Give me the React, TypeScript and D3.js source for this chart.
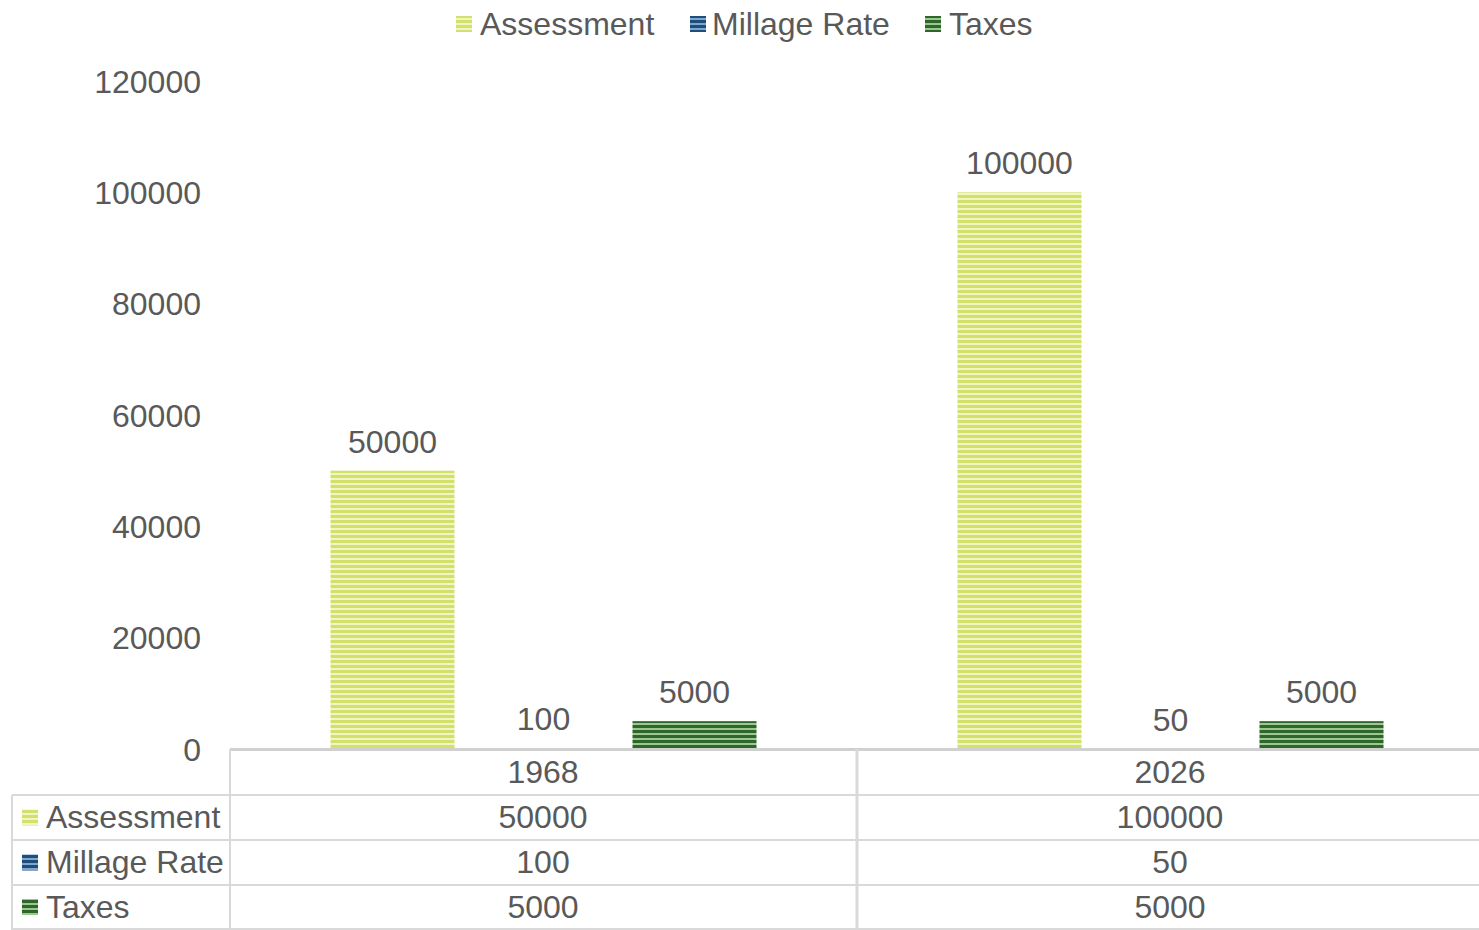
import React from 'react';
import { scaleBand, scaleLinear } from 'd3';

const years = ['1968', '2026'];
const seriesNames = ['Assessment', 'Millage Rate', 'Taxes'];
const assessment = [50000, 100000];
const millage = [100, 50];
const taxes = [5000, 5000];
const yTicks = [0, 20000, 40000, 60000, 80000, 100000, 120000];

const values = [assessment, millage, taxes];

const W = 1479;
const H = 930;
const FONT = 'Liberation Sans, Arial, sans-serif';
const FS = 32;
const TEXT = '#595959';
const GRID = '#d9d9d9';

// base colour + stripe colour for each series
const fills = [
  { id: 'pA', base: '#d3e16b', stripe: '#eff5c4' },
  { id: 'pM', base: '#1f4e79', stripe: '#7ea6d0' },
  { id: 'pT', base: '#2f662b', stripe: '#9cc78f' },
];

const App = () => {
  const plotLeft = 230;
  const y = scaleLinear().domain([0, 120000]).range([749, 81]);
  const x0 = scaleBand().domain(years).range([plotLeft, 1484]);
  const x1 = scaleBand()
    .domain(seriesNames)
    .range([0, x0.bandwidth()])
    .paddingInner(0.1788)
    .paddingOuter(0.6655);

  const rowTops = [749, 795, 840, 885, 929];

  return (
    <svg
      width={W}
      height={H}
      style={{ position: 'absolute', left: 0, top: 0, display: 'block', background: '#fff' }}
      fontFamily={FONT}
    >
      <defs>
        {fills.map((f) => (
          <pattern key={f.id} id={f.id} width={6} height={5} patternUnits="userSpaceOnUse">
            <rect width={6} height={5} fill={f.base} />
            <rect y={3} width={6} height={2} fill={f.stripe} />
          </pattern>
        ))}
      </defs>

      {/* legend */}
      {[
        { x: 456, tx: 480 },
        { x: 690, tx: 712 },
        { x: 925, tx: 949 },
      ].map((p, i) => (
        <g key={seriesNames[i]}>
          <rect x={p.x} y={16} width={16} height={16} fill={`url(#${fills[i].id})`} />
          <text x={p.tx} y={35} fontSize={FS} fill={TEXT}>
            {seriesNames[i]}
          </text>
        </g>
      ))}

      {/* y axis labels */}
      {yTicks.map((t) => (
        <text key={t} x={201} y={y(t)} dy="0.36em" textAnchor="end" fontSize={FS} fill={TEXT}>
          {t}
        </text>
      ))}

      {/* bars */}
      {years.map((yr, j) => (
        <g key={yr} transform={`translate(${x0(yr)},0)`}>
          {seriesNames.map((s, i) => {
            const v = values[i][j];
            const bx = x1(s) as number;
            const top = y(v);
            return (
              <g key={s}>
                <rect
                  x={bx}
                  y={top}
                  width={x1.bandwidth()}
                  height={y(0) - top}
                  fill={`url(#${fills[i].id})`}
                />
                <text
                  x={bx + x1.bandwidth() / 2}
                  y={top - 18}
                  textAnchor="middle"
                  fontSize={FS}
                  fill={TEXT}
                >
                  {v}
                </text>
              </g>
            );
          })}
        </g>
      ))}

      {/* data table */}
      <line x1={plotLeft} x2={W} y1={749.5} y2={749.5} stroke="#d0d0d0" strokeWidth={3} />
      {rowTops.slice(1).map((ry) => (
        <line key={ry} x1={12} x2={W} y1={ry} y2={ry} stroke={GRID} strokeWidth={2} />
      ))}
      <line x1={12} x2={12} y1={795} y2={930} stroke={GRID} strokeWidth={2} />
      <line x1={plotLeft} x2={plotLeft} y1={749} y2={930} stroke={GRID} strokeWidth={2} />
      <line x1={857} x2={857} y1={749} y2={930} stroke={GRID} strokeWidth={3} />

      {years.map((yr) => (
        <text
          key={yr}
          x={(x0(yr) as number) + 313}
          y={(rowTops[0] + rowTops[1]) / 2}
          dy="0.34em"
          textAnchor="middle"
          fontSize={FS}
          fill={TEXT}
        >
          {yr}
        </text>
      ))}
      {seriesNames.map((s, i) => {
        const cy = (rowTops[i + 1] + rowTops[i + 2]) / 2;
        return (
          <g key={s}>
            <rect x={22} y={cy - 8} width={16} height={16} fill={`url(#${fills[i].id})`} />
            <text x={46} y={cy} dy="0.34em" fontSize={FS} fill={TEXT}>
              {s}
            </text>
            {years.map((yr, j) => (
              <text
                key={yr}
                x={(x0(yr) as number) + 313}
                y={cy}
                dy="0.34em"
                textAnchor="middle"
                fontSize={FS}
                fill={TEXT}
              >
                {values[i][j]}
              </text>
            ))}
          </g>
        );
      })}
    </svg>
  );
};

export default App;
